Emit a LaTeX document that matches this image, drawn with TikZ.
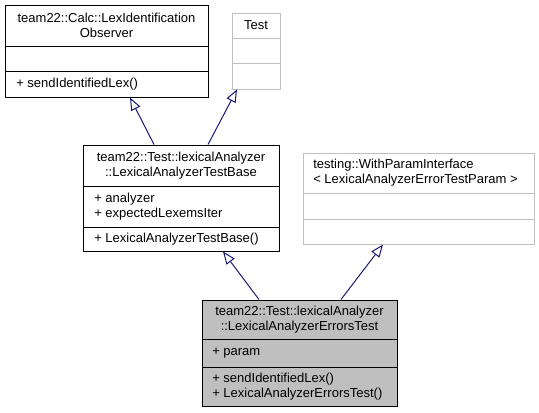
\documentclass[tikz,border=0pt]{standalone}
\usepackage{fontspec}
\setmainfont{Liberation Sans}
\usetikzlibrary{arrows.meta,fit}
\definecolor{edgeblue}{HTML}{191970}
\definecolor{lightgr}{HTML}{BFBFBF}
\tikzset{
  boxdark/.style={draw=black, line width=0.75pt, inner sep=0pt},
  boxlight/.style={draw=lightgr, line width=0.75pt, inner sep=0pt},
  sepdark/.style={draw=black, line width=0.75pt},
  seplight/.style={draw=lightgr, line width=0.75pt},
  txt/.style={inner sep=0pt, font=\fontsize{9.75}{11.25}\selectfont},
  inh/.style={draw=edgeblue, line width=0.75pt, -{Triangle[open, fill=white, length=9.5pt, width=7.5pt]}}
}
\begin{document}
\begin{tikzpicture}[x=0.75pt,y=-0.75pt]
\useasboundingbox (0,0) rectangle (539,412);
% Observer
\node[boxdark, fit={(5,5)(208,97)}] (obs) {};
\draw[sepdark] (5,46) -- (208,46) (5,71) -- (208,71);
\node[txt, align=center] (obst) at (106.5,25.5) {team22::Calc::LexIdentification\\Observer};
\node[txt, anchor=west] (obsm) at (16,84) {+ sendIdentifiedLex()};
% Test
\node[boxlight, fit={(232,13)(280,89)}] (test) {};
\draw[seplight] (232,38) -- (280,38) (232,63) -- (280,63);
\node[txt] (testt) at (256,25.5) {Test};
% TestBase
\node[boxdark, fit={(83,145)(279,251)}] (base) {};
\draw[sepdark] (83,186) -- (279,186) (83,227) -- (279,227);
\node[txt, align=center] (baset) at (181,165.5) {team22::Test::lexicalAnalyzer\\::LexicalAnalyzerTestBase};
\node[txt, anchor=west, align=left] (basea) at (94,206.5) {+ analyzer\\+ expectedLexemsIter};
\node[txt, anchor=west] (basem) at (94,239) {+ LexicalAnalyzerTestBase()};
% WithParamInterface
\node[boxlight, fit={(303,153)(534,244)}] (wpi) {};
\draw[seplight] (303,193) -- (534,193) (303,219) -- (534,219);
\node[txt, anchor=west, align=left] (wpit) at (313,173) {testing::WithParamInterface\\< LexicalAnalyzerErrorTestParam >};
% ErrorsTest
\node[boxdark, fill=lightgr, fit={(202,300)(397,406)}] (err) {};
\draw[sepdark] (202,339) -- (397,339) (202,367) -- (397,367);
\node[txt, align=center] (errt) at (299.5,319.5) {team22::Test::lexicalAnalyzer\\::LexicalAnalyzerErrorsTest};
\node[txt, anchor=west] (erra) at (212,353) {+ param};
\node[txt, anchor=west, align=left] (errm) at (212,386.5) {+ sendIdentifiedLex()\\+ LexicalAnalyzerErrorsTest()};
% inheritance
\draw[inh] (154,0 |- base.north) -- (130,0 |- obs.south);
\draw[inh] (208,0 |- base.north) -- (237,0 |- test.south);
\draw[inh] (259,0 |- err.north) -- (223,0 |- base.south);
\draw[inh] (341,0 |- err.north) -- (383,0 |- wpi.south);
\end{tikzpicture}
\end{document}
